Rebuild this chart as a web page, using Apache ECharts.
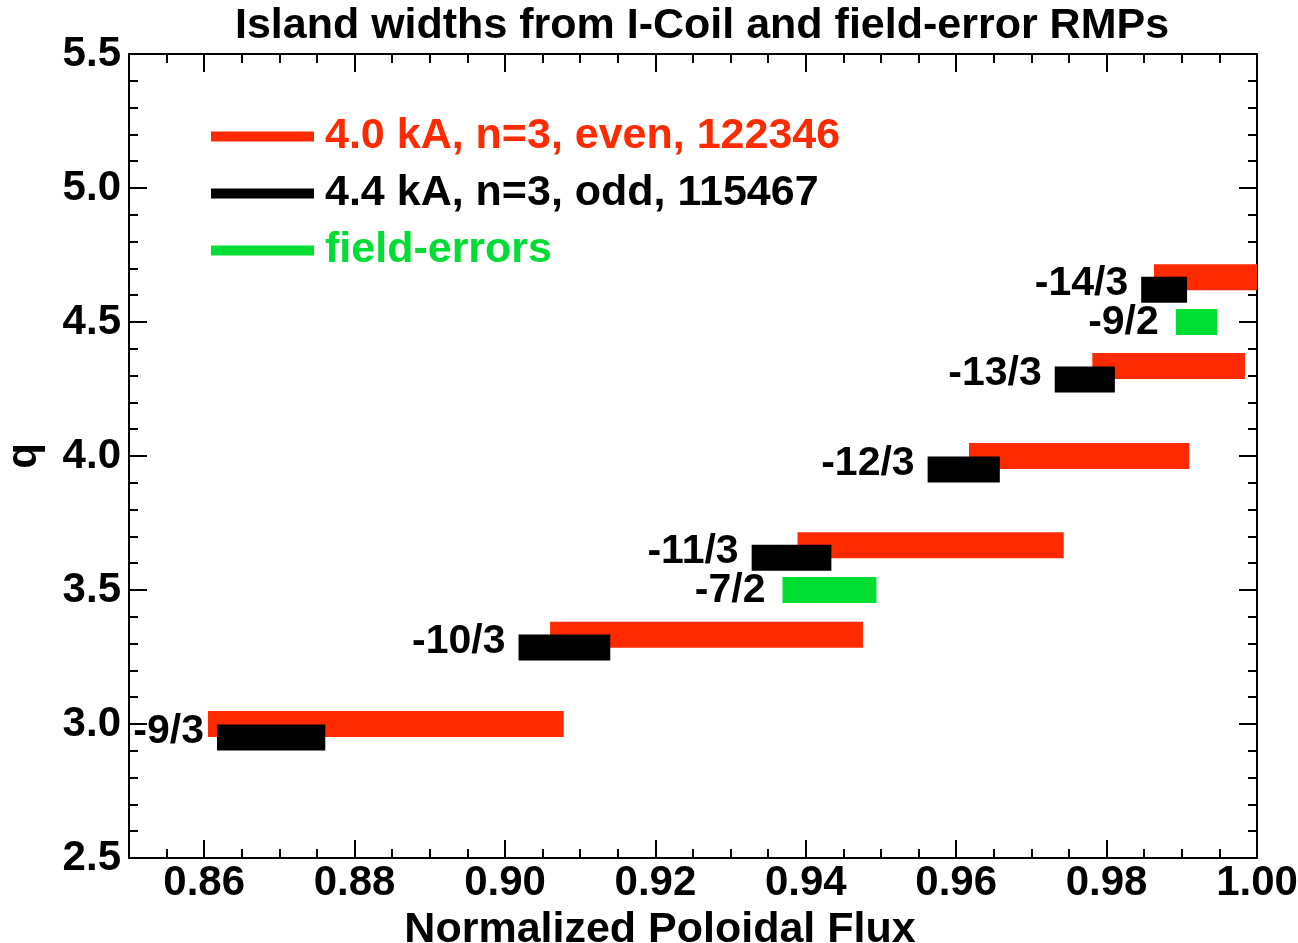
<!DOCTYPE html>
<html>
<head>
<meta charset="utf-8">
<script src="https://cdn.jsdelivr.net/npm/echarts@6/dist/echarts.min.js"></script>
<style>
  html, body { margin: 0; padding: 0; background: #fff; }
  #chart { width: 1298px; height: 943px; }
</style>
</head>
<body>
<div id="chart"></div>
<script>
// barras: [inicio, fim, q]
var barrasPar = [
    [0.8605, 0.9078, 3.000],
    [0.9060, 0.9476, 3.333],
    [0.9389, 0.9743, 3.667],
    [0.9617, 0.9910, 4.000],
    [0.9781, 0.9984, 4.336],
    [0.9863, 1.0000, 4.667]
];
var barrasImpar = [
    [0.8617, 0.8761, 2.950],
    [0.9018, 0.9140, 3.285],
    [0.9328, 0.9434, 3.620],
    [0.9562, 0.9658, 3.950],
    [0.9731, 0.9811, 4.285],
    [0.9846, 0.9907, 4.620]
];
var barrasErro = [
    [0.9369, 0.9494, 3.500],
    [0.9892, 0.9947, 4.500]
];
var rotulosImpar = ['-9/3', '-10/3', '-11/3', '-12/3', '-13/3', '-14/3'];
var rotulosErro = ['-7/2', '-9/2'];

var nomesSeries = ['4.0 kA, n=3, even, 122346', '4.4 kA, n=3, odd, 115467', 'field-errors'];
var coresSeries = ['#ff2a00', '#000000', '#00dd33'];

var ticksX = [0.86, 0.88, 0.90, 0.92, 0.94, 0.96, 0.98, 1.00];
var ticksY = [2.5, 3.0, 3.5, 4.0, 4.5, 5.0, 5.5];

var fonte = '"Liberation Sans", Arial, Helvetica, sans-serif';

// funcao q desenha a barra e o rotulo
function desenhaBarra(rotulos, gap, dy) {
    return function (params, api) {
        var p0 = api.coord([api.value(0), api.value(2)]);
        var p1 = api.coord([api.value(1), api.value(2)]);
        var h = 26;
        var rect = echarts.graphic.clipRectByRect({
            x: p0[0], y: p0[1] - h / 2, width: p1[0] - p0[0], height: h
        }, {
            x: params.coordSys.x, y: params.coordSys.y,
            width: params.coordSys.width, height: params.coordSys.height
        });
        var filhos = [];
        if (rect) {
            filhos.push({ type: 'rect', shape: rect, style: { fill: api.visual('color') } });
        }
        if (rotulos) {
            filhos.push({
                type: 'text',
                x: p0[0] - gap,
                y: p0[1] + dy,
                z2: 10,
                style: {
                    text: rotulos[params.dataIndex],
                    fill: '#000',
                    font: 'bold 41px ' + fonte,
                    align: 'right',
                    verticalAlign: 'middle'
                }
            });
        }
        return { type: 'group', children: filhos };
    };
}

var eixoX = function (pos, label) {
    return {
        type: 'value', position: pos, min: 0.85, max: 1.0,
        axisLine: { show: label, lineStyle: { color: '#000', width: 2 } },
        axisTick: { show: true, inside: true, length: 18, customValues: ticksX, lineStyle: { color: '#000', width: 2 } },
        axisLabel: {
            show: label, customValues: ticksX, margin: 4,
            color: '#000', fontSize: 42, fontWeight: 'bold', fontFamily: fonte,
            formatter: function (v) { return v.toFixed(2); }
        },
        splitLine: { show: false },
        name: label ? 'Normalized Poloidal Flux' : '',
        nameLocation: 'middle', nameGap: 46,
        nameTextStyle: { color: '#000', fontSize: 43, fontWeight: 'bold', fontFamily: fonte, padding: [0, 66, 0, 0] }
    };
};
var eixoXMenor = function (pos) {
    return {
        type: 'value', position: pos, min: 0.85, max: 1.0, interval: 0.005,
        axisLine: { show: pos === 'top', lineStyle: { color: '#000', width: 2 } },
        axisTick: { show: true, inside: true, length: 9, lineStyle: { color: '#000', width: 2 } },
        axisLabel: { show: false },
        splitLine: { show: false }
    };
};
var eixoY = function (pos, label) {
    return {
        type: 'value', position: pos, min: 2.5, max: 5.5, interval: 0.5,
        axisLine: { show: true, lineStyle: { color: '#000', width: 2 } },
        axisTick: { show: true, inside: true, length: 18, lineStyle: { color: '#000', width: 2 } },
        minorTick: { show: true, splitNumber: 5, length: 9, lineStyle: { color: '#000', width: 2 } },
        axisLabel: {
            show: label, margin: 8,
            color: '#000', fontSize: 42, fontWeight: 'bold', fontFamily: fonte,
            formatter: function (v) { return v.toFixed(1); }
        },
        splitLine: { show: false },
        name: label ? 'q' : '',
        nameLocation: 'middle', nameRotate: 90, nameGap: 84,
        nameTextStyle: { color: '#000', fontSize: 42, fontWeight: 'bold', fontFamily: fonte }
    };
};

var myChart = echarts.init(document.getElementById('chart'), null, { renderer: 'canvas' });
var option = {
    backgroundColor: '#fff',
    animation: false,
    title: {
        text: 'Island widths from I-Coil and field-error RMPs',
        left: 697, top: 0, textAlign: 'center',
        textStyle: { color: '#000', fontSize: 43, fontWeight: 'bold', fontFamily: fonte }
    },
    legend: {
        orient: 'vertical', left: 206, top: 110,
        itemWidth: 103, itemHeight: 10, itemGap: 14,
        icon: 'rect',
        data: nomesSeries.map(function (n, i) {
            return { name: n, textStyle: { color: coresSeries[i] } };
        }),
        textStyle: { fontSize: 43, fontWeight: 'bold', fontFamily: fonte, padding: [0, 0, 0, 6] }
    },
    grid: { left: 129, right: 41, top: 54, bottom: 85, containLabel: false, outerBoundsMode: 'none' },
    xAxis: [eixoX('bottom', true), eixoXMenor('bottom'), eixoX('top', false), eixoXMenor('top')],
    yAxis: [eixoY('left', true), eixoY('right', false)],
    series: [
        {
            name: nomesSeries[0], type: 'custom', renderItem: desenhaBarra(null, 0, 0),
            itemStyle: { color: coresSeries[0] }, encode: { x: [0, 1], y: 2 },
            data: barrasPar, z: 2
        },
        {
            name: nomesSeries[1], type: 'custom', renderItem: desenhaBarra(rotulosImpar, 13, -6),
            itemStyle: { color: coresSeries[1] }, encode: { x: [0, 1], y: 2 },
            data: barrasImpar, z: 3
        },
        {
            name: nomesSeries[2], type: 'custom', renderItem: desenhaBarra(rotulosErro, 17, 1),
            itemStyle: { color: coresSeries[2] }, encode: { x: [0, 1], y: 2 },
            data: barrasErro, z: 3
        }
    ]
};
myChart.setOption(option);
</script>
</body>
</html>
